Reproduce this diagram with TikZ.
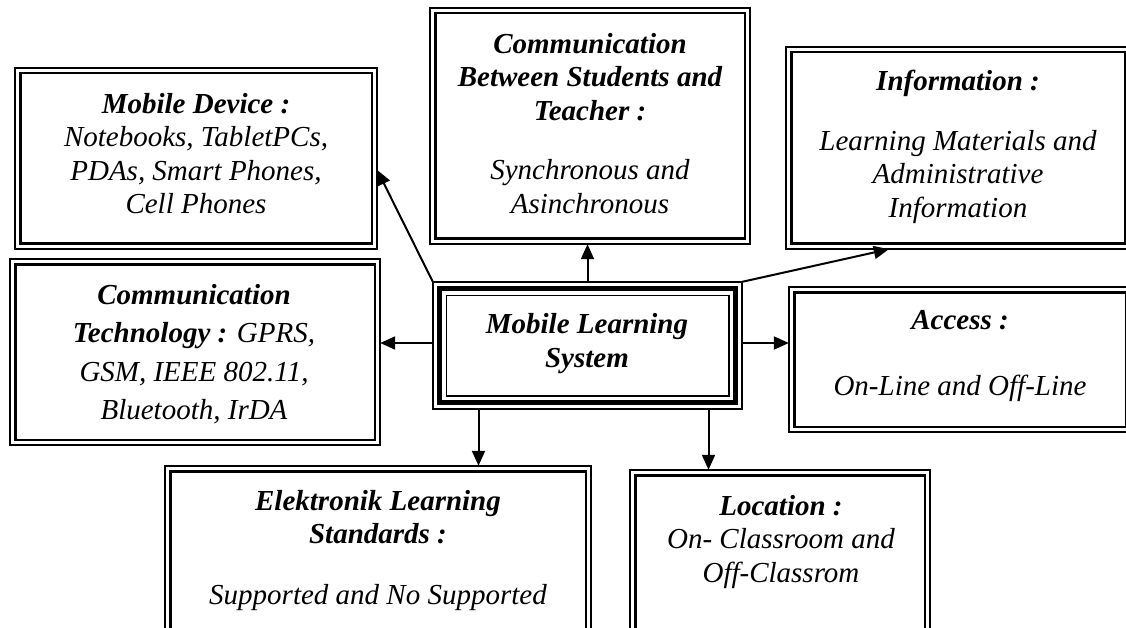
\documentclass[tikz,border=0pt]{standalone}
\usepackage{fontspec}
\setmainfont{Liberation Serif}
\usetikzlibrary{arrows.meta,fit}
\newcommand\myframe[3]{\draw[#3] ([xshift=#2pt,yshift=-#2pt]#1.north west) rectangle ([xshift=-#2pt,yshift=#2pt]#1.south east);}
\begin{document}
\begin{tikzpicture}[x=1pt,y=-1pt,
  box/.style={rectangle, draw, line width=1.5pt, inner sep=0pt, outer sep=0pt},
  inframe/.style={line width=2.4pt},
  txt/.style={align=center, inner sep=0pt, font=\fontsize{29}{33.5}\selectfont\itshape},
  arr/.style={line width=2pt, -{Triangle[length=15pt,width=13pt]}},
]
\useasboundingbox (0,0) rectangle (1126,628);
\clip (0,0) rectangle (1126,628);
% boxes
\node[box, fit={(14.8,67.8) (377.2,249.2)}] (md) {};
\node[box, fit={(429.8,7.8) (750.2,244.2)}] (cbt) {};
\node[box, fit={(785.8,46.8) (1130.2,249.2)}] (info) {};
\node[box, fit={(9.8,258.8) (380.2,445.2)}] (ct) {};
\node[box, fit={(432.8,281.8) (742.2,409.2)}] (ctr) {};
\node[box, fit={(788.8,286.8) (1131.2,432.2)}] (acc) {};
\node[box, fit={(164.8,465.8) (591.2,660)}] (el) {};
\node[box, fit={(629.8,469.8) (930.2,660)}] (loc) {};
\myframe{md}{5.5}{inframe}
\myframe{cbt}{5.5}{inframe}
\myframe{info}{5.5}{inframe}
\myframe{ct}{5.5}{inframe}
\myframe{acc}{5.5}{inframe}
\myframe{el}{5.5}{inframe}
\myframe{loc}{5.5}{inframe}
\myframe{ctr}{6.8}{line width=5pt}
\myframe{ctr}{13.5}{line width=1.6pt}
% texts
\node[txt] (mdt) at (196,153.5) {\textbf{Mobile Device :}\\Notebooks, TabletPCs,\\PDAs, Smart Phones,\\Cell Phones};
\node[txt] (cbtt) at (590,123.5) {\textbf{Communication}\\\textbf{Between Students and}\\\textbf{Teacher :}\\[26pt]Synchronous and\\Asinchronous};
\node[txt] (infot) at (958,147) {\textbf{Information :}\\[26pt]Learning Materials and\\Administrative\\Information};
\node[txt, font=\fontsize{29}{38.5}\selectfont\itshape] (ctt) at (194,354) {\textbf{Communication}\\\textbf{Technology :} GPRS,\\GSM, IEEE 802.11,\\Bluetooth, IrDA};
\node[txt] (ctrt) at (587,343.5) {\textbf{Mobile Learning}\\\textbf{System}};
\node[txt] (acct) at (960,356) {\textbf{Access :}\\[33pt]On-Line and Off-Line};
\node[txt] (elt) at (378,550.5) {\textbf{Elektronik Learning}\\\textbf{Standards :}\\[27pt]Supported and No Supported};
\node[txt] (loct) at (781,542) {\textbf{Location :}\\On- Classroom and\\Off-Classrom};
% connectors
\draw[arr] (ctr.north west) -- ([yshift=-11.5pt]md.east);
\draw[arr] (ctr.north) -- (ctr.north |- cbt.south);
\draw[arr] (ctr.north east) -- ([xshift=103pt]info.south west);
\coordinate (lw) at ([yshift=2.5pt]ctr.west);
\coordinate (le) at ([yshift=2.5pt]ctr.east);
\draw[arr] (lw) -- (lw -| ct.east);
\draw[arr] (le) -- (le -| acc.west);
\coordinate (b1) at ([xshift=-109pt]ctr.south);
\coordinate (b2) at ([xshift=121pt]ctr.south);
\draw[arr] (b1) -- (b1 |- el.north);
\draw[arr] (b2) -- (b2 |- loc.north);
\end{tikzpicture}
\end{document}
